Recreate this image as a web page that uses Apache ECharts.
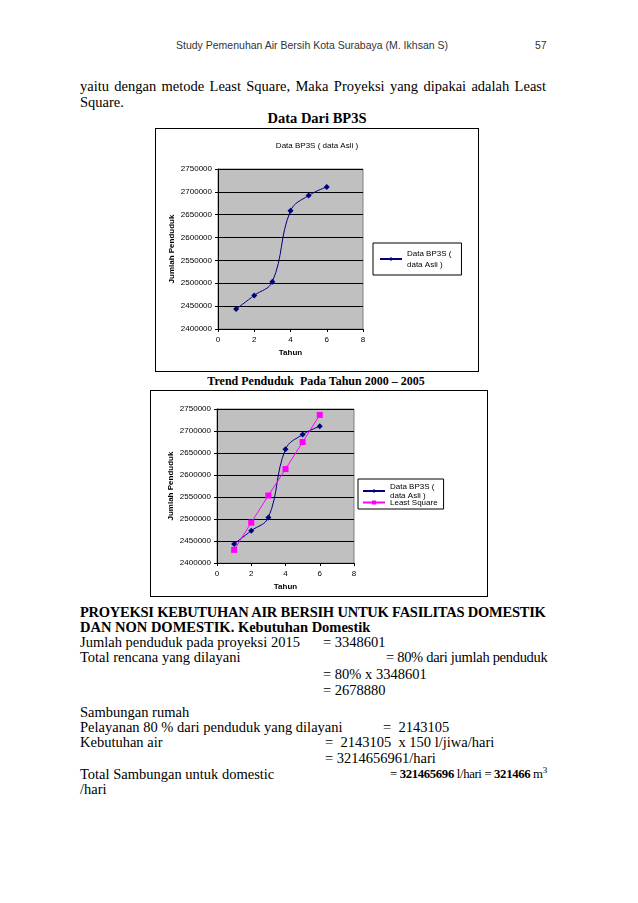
<!DOCTYPE html>
<html><head><meta charset="utf-8">
<script src="https://cdn.jsdelivr.net/npm/echarts@6/dist/echarts.min.js"></script>
<style>
body{margin:0;background:#fff;width:638px;height:903px;position:relative;overflow:hidden;}
.t{position:absolute;font-family:"Liberation Serif",serif;font-size:14.5px;line-height:16px;color:#000;white-space:pre;}
.j{text-align:justify;text-align-last:justify;width:466px;white-space:normal;}
.b{font-weight:bold;}
.h{position:absolute;font-family:"Liberation Sans",sans-serif;font-size:10.5px;color:#333;line-height:14px;white-space:pre;}
.chart{position:absolute;border:1px solid #000;box-sizing:border-box;background:#fff;}
</style></head><body>
<div class="h" style="left:176px;top:38px;">Study Pemenuhan Air Bersih Kota Surabaya (M. Ikhsan S)</div>
<div class="h" style="left:535px;top:38px;">57</div>

<div class="t j" style="left:80px;top:78px;">yaitu dengan metode Least Square, Maka Proyeksi yang dipakai adalah Least</div>
<div class="t" style="left:80px;top:94px;">Square.</div>
<div class="t b" style="left:0;width:634px;text-align:center;top:110px;">Data Dari BP3S</div>

<div id="c1" class="chart" style="left:155px;top:128px;width:324px;height:244px;"></div>

<div class="t b" style="left:0;width:632px;text-align:center;top:373px;font-size:12px;">Trend Penduduk  Pada Tahun 2000 – 2005</div>

<div id="c2" class="chart" style="left:150px;top:390px;width:338px;height:207px;"></div>

<div id="head1" class="t b" style="left:80px;top:604px;font-size:14.5px;">PROYEKSI KEBUTUHAN AIR BERSIH UNTUK FASILITAS DOMESTIK</div>
<div class="t b" style="left:80px;top:619px;">DAN NON DOMESTIK. Kebutuhan Domestik</div>
<div class="t" style="left:80px;top:634px;">Jumlah penduduk pada proyeksi 2015</div>
<div class="t" style="left:323px;top:634px;">= 3348601</div>
<div class="t" style="left:80px;top:649px;">Total rencana yang dilayani</div>
<div id="l80" class="t" style="left:386px;top:649px;">= 80% dari jumlah penduduk</div>
<div class="t" style="left:323px;top:666px;">= 80% x 3348601</div>
<div class="t" style="left:323px;top:682px;">= 2678880</div>
<div class="t" style="left:80px;top:704px;">Sambungan rumah</div>
<div class="t" style="left:80px;top:719px;">Pelayanan 80 % dari penduduk yang dilayani</div>
<div class="t" style="left:383px;top:719px;">=  2143105</div>
<div class="t" style="left:80px;top:734px;">Kebutuhan air</div>
<div class="t" style="left:325px;top:734px;">=  2143105  x 150 l/jiwa/hari</div>
<div class="t" style="left:325px;top:750px;">= 3214656961/hari</div>
<div class="t" style="left:80px;top:766px;">Total Sambungan untuk domestic</div>
<div id="ltot" class="t" style="left:390px;top:766px;">= <b>321465696</b> l/hari = <b>321466</b> m<span style="font-size:9px;position:relative;top:-5px;">3</span></div>
<div class="t" style="left:80px;top:781px;">/hari</div>

<script>
function fit(id, target, justify) {
  const el = document.getElementById(id);
  let ls = 0;
  let fs = parseFloat(getComputedStyle(el).fontSize);
  el.style.whiteSpace = 'pre';
  while (el.scrollWidth > target && ls > -0.35) { ls -= 0.05; el.style.letterSpacing = ls + 'px'; }
  while (el.scrollWidth > target && fs > 10) { fs -= 0.25; el.style.fontSize = fs + 'px'; }
  if (justify) {
    const words = el.textContent.split(' ').length - 1;
    const extra = target - el.scrollWidth;
    if (words > 0 && extra > 0) el.style.wordSpacing = (extra / words) + 'px';
  }
}
fit('head1', 466, true);
fit('l80', 161, false);
fit('ltot', 158, false);

const years = [1, 2, 3, 4, 5, 6];
const dataAsli = [2443500, 2473500, 2503500, 2658500, 2692000, 2710800];
const leastSquare = [2430000, 2492000, 2553600, 2613600, 2675000, 2736500];
const xTicks = [0, 2, 4, 6, 8];
const yMin = 2400000, yMax = 2750000, yStep = 50000;
const nameAsli = 'Data BP3S ( data Asli )';
const nameLS = 'Least Square';

const pairs = (xs, ys) => xs.map((x, i) => [x, ys[i]]);
const fontF = '"Liberation Sans", Arial, sans-serif';

function axes() {
  return {
    xAxis: {
      type: 'value', min: xTicks[0], max: xTicks[xTicks.length - 1], interval: 2,
      name: 'Tahun', nameLocation: 'middle', nameGap: 18,
      nameTextStyle: {fontFamily: fontF, fontSize: 8, fontWeight: 'bold', color: '#000'},
      axisLine: {show: true, lineStyle: {color: '#000', width: 1}},
      axisTick: {show: true, length: 3, lineStyle: {color: '#000'}},
      axisLabel: {fontFamily: fontF, fontSize: 8, color: '#000', margin: 7},
      splitLine: {show: false}
    },
    yAxis: {
      type: 'value', min: yMin, max: yMax, interval: yStep,
      name: 'Jumlah Penduduk', nameLocation: 'middle', nameGap: 42, nameRotate: 90,
      nameTextStyle: {fontFamily: fontF, fontSize: 8, fontWeight: 'bold', color: '#000'},
      axisLine: {show: true, lineStyle: {color: '#000', width: 1}},
      axisTick: {show: true, length: 3, lineStyle: {color: '#000'}},
      axisLabel: {fontFamily: fontF, fontSize: 8, color: '#000', margin: 6, formatter: v => String(v)},
      splitLine: {show: true, lineStyle: {color: '#000', width: 1}}
    }
  };
}

const c1 = echarts.init(document.getElementById('c1'));
const a1 = axes();
c1.setOption({
  animation: false,
  title: {text: nameAsli, left: 'center', top: 8, textStyle: {fontFamily: fontF, fontSize: 8, fontWeight: 'normal', color: '#000'}},
  grid: {left: 62, top: 40, width: 145, height: 160, show: true, backgroundColor: '#C0C0C0', borderColor: '#808080', borderWidth: 1, containLabel: false},
  xAxis: a1.xAxis, yAxis: a1.yAxis,
  legend: {
    orient: 'vertical', left: 217, top: 114, width: 79,
    borderColor: '#000', borderWidth: 1, padding: [5, 10, 5, 6],
    itemWidth: 22, itemHeight: 5,
    textStyle: {fontFamily: fontF, fontSize: 8, color: '#000', lineHeight: 11},
    formatter: () => 'Data BP3S (\ndata Asli )',
    data: [nameAsli]
  },
  series: [{
    name: nameAsli, type: 'line', smooth: 0.4,
    data: pairs(years, dataAsli),
    symbol: 'diamond', symbolSize: 6,
    lineStyle: {color: '#000080', width: 1}, itemStyle: {color: '#000080'}
  }]
});

const c2 = echarts.init(document.getElementById('c2'));
const a2 = axes();
c2.setOption({
  animation: false,
  grid: {left: 66, top: 18, width: 137, height: 156, show: true, backgroundColor: '#C0C0C0', borderColor: '#808080', borderWidth: 1, containLabel: false},
  xAxis: a2.xAxis, yAxis: a2.yAxis,
  legend: {
    orient: 'vertical', left: 207, top: 88, width: 80,
    borderColor: '#000', borderWidth: 1, padding: [3, 6, 2, 4], itemGap: -2,
    itemWidth: 22, itemHeight: 5,
    textStyle: {fontFamily: fontF, fontSize: 8, color: '#000', lineHeight: 9},
    formatter: n => n === nameAsli ? 'Data BP3S (\ndata Asli )' : n,
    data: [nameAsli, nameLS]
  },
  series: [{
    name: nameAsli, type: 'line', smooth: 0.4,
    data: pairs(years, dataAsli),
    symbol: 'diamond', symbolSize: 6,
    lineStyle: {color: '#000080', width: 1}, itemStyle: {color: '#000080'}
  }, {
    name: nameLS, type: 'line', smooth: false,
    data: pairs(years, leastSquare),
    symbol: 'rect', symbolSize: 6,
    lineStyle: {color: '#FF00FF', width: 1}, itemStyle: {color: '#FF00FF'}
  }]
});
</script>
</body></html>
